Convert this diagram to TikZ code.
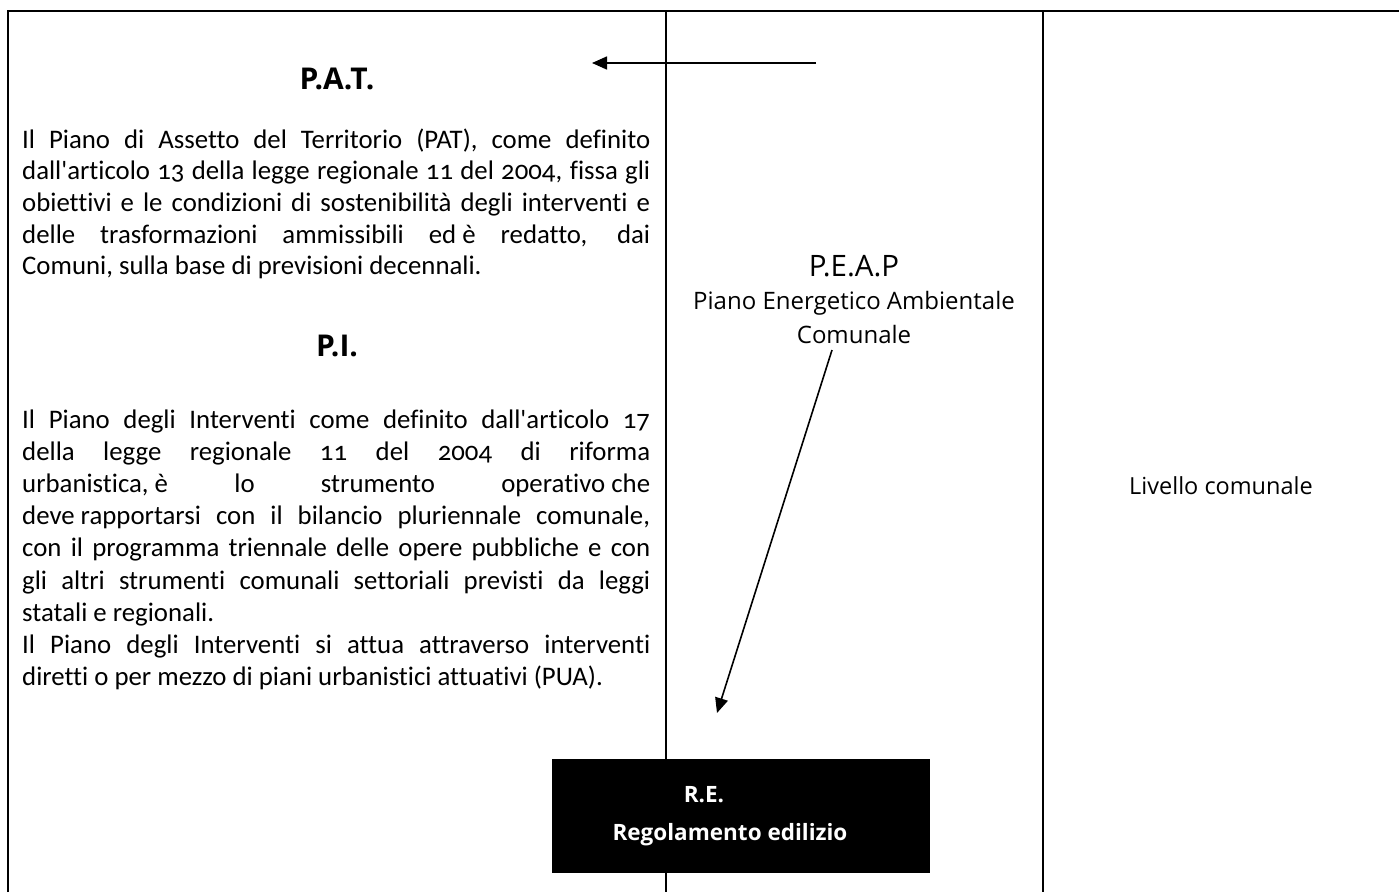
\documentclass[tikz,border=0pt]{standalone}
\usepackage{fontspec}
\setmainfont{Carlito}
\newfontfamily\bodyfont{Carlito}[Numbers=OldStyle,Ligatures={TeXOff,NoCommon}]
\newfontfamily\osfont{Open Sans}
\usetikzlibrary{arrows.meta}
\newcommand{\jl}[1]{\makebox[628pt][s]{#1}}
\begin{document}
\begin{tikzpicture}[x=1pt,y=-1pt,
  frame/.style={line width=2pt},
  conn/.style={line width=1.6pt,-{Triangle[length=15pt,width=13pt]}},
  titlefont/.style={font=\osfont\bfseries\fontsize{30}{32}\selectfont, inner sep=0pt},
  bodytext/.style={inner sep=0pt, anchor=base west},
  midtext/.style={inner sep=0pt, font=\osfont\fontsize{24}{33.5}\selectfont},
  retext/.style={inner sep=0pt, text=white, font=\osfont\bfseries\fontsize{22.5}{30}\selectfont}]
\useasboundingbox (0,0) rectangle (1399,892);
\fill[white] (0,0) rectangle (1399,892);
% table frame
\draw[frame] (8,892) -- (8,11) -- (1399,11);
\draw[frame] (666,11) -- (666,892);
\draw[frame] (1043,11) -- (1043,892);
% left column
\node[titlefont, anchor=base] (pat) at (337,89) {P.A.T.};
\node[bodytext] (pattext) at (22,148) {\parbox[t]{628pt}{\bodyfont\fontsize{26.8}{31.7}\selectfont
\jl{Il Piano di Assetto del Territorio (PAT), come definito}\\
\jl{dall'articolo 13 della legge regionale 11 del 2004, fissa gli}\\
\jl{obiettivi e le condizioni di sostenibilità degli interventi e}\\
\jl{delle trasformazioni ammissibili \mbox{ed è} redatto, dai}\\
Comuni, sulla base di previsioni decennali.}};
\node[titlefont, anchor=base] (pi) at (337,356) {P.I.};
\node[bodytext] (pitext) at (22,428) {\parbox[t]{628pt}{\bodyfont\fontsize{26.8}{32.2}\selectfont
\jl{Il Piano degli Interventi come definito dall'articolo 17}\\
\jl{della legge regionale 11 del 2004 di riforma}\\
\jl{\mbox{urbanistica, è} lo strumento \mbox{operativo che}}\\
\jl{\mbox{deve rapportarsi} con il bilancio pluriennale comunale,}\\
\jl{con il programma triennale delle opere pubbliche e con}\\
\jl{gli altri strumenti comunali settoriali previsti da leggi}\\
statali e regionali.\\
\jl{Il Piano degli Interventi si attua attraverso interventi}\\
diretti o per mezzo di piani urbanistici attuativi (PUA).}};
% middle column
\node[midtext, anchor=base] (peap) at (854,276) {\parbox[t]{360pt}{\centering
{\osfont\fontsize{29.5}{33.5}\selectfont P.E.A.P\par}
\osfont\fontsize{24}{33.5}\selectfont Piano Energetico Ambientale\\Comunale}};
\node[fill=black, minimum width=378pt, minimum height=114pt, inner sep=0pt] (re) at (741,816) {};
\node[retext, anchor=base] (rea) at (704,802) {R.E.};
\node[retext, anchor=base] (reb) at (730,840) {Regolamento edilizio};
% right column
\node[midtext, anchor=base, font=\osfont\fontsize{23.5}{30}\selectfont] (liv) at (1221,494) {Livello comunale};
% connectors
\coordinate (hstart) at (816,63);
\coordinate (hend) at (592,63);
\draw[conn] (hstart) -- (hend);
\coordinate (dstart) at (832,350);
\coordinate (dend) at (717,713);
\draw[conn] (dstart) -- (dend);
\end{tikzpicture}
\end{document}
